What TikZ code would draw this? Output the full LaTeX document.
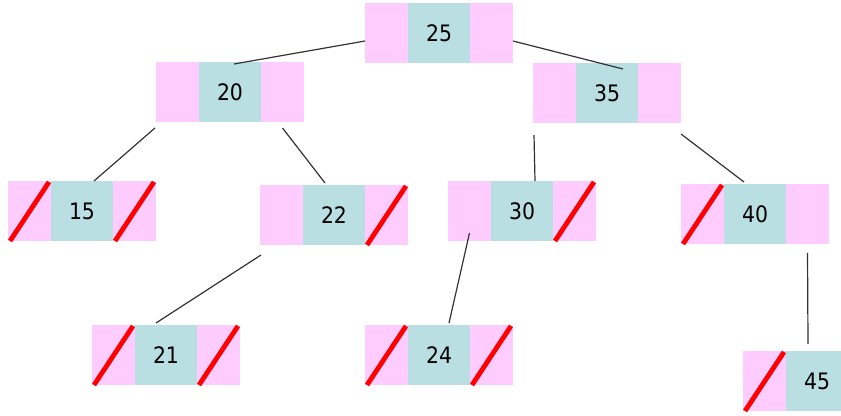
\documentclass[tikz,border=0pt]{standalone}
\usepackage{fontspec}
\newfontfamily\treefont{DejaVu Sans Condensed}
\usetikzlibrary{positioning,calc}
\definecolor{keyblue}{RGB}{186,223,226}
\definecolor{ptrpink}{RGB}{255,204,255}

\begin{document}
\begin{tikzpicture}[x=0.75pt,y=-0.75pt,
        key node/.style={fill=keyblue,minimum width=46.5pt,minimum height=45pt,inner sep=0pt,outer sep=0pt,
            font=\treefont\fontsize{17}{20}\selectfont},
        ptr node/.style={fill=ptrpink,minimum width=32.25pt,minimum height=45pt,inner sep=0pt,outer sep=0pt},
        nil ptr/.style={red,line width=3.6pt},
        link/.style={black!80,line width=0.9pt}]
        \clip (0,0) rectangle (841,416);
        % keys
        \node[key node] (k25) at (439,33) {25};
        \node[key node] (k20) at (230,92) {20};
        \node[key node] (k35) at (607,93) {35};
        \node[key node] (k15) at (82,211) {15};
        \node[key node] (k22) at (334,215) {22};
        \node[key node] (k30) at (522,211) {30};
        \node[key node] (k40) at (755,214) {40};
        \node[key node] (k21) at (166,355) {21};
        \node[key node] (k24) at (439,355) {24};
        \node[key node] (k45) at (817,381) {45};
        % pointer fields
        \foreach \k in {25,20,35,15,22,30,40,21,24}{
            \node[ptr node] (l\k) [left=0pt of k\k] {};
            \node[ptr node] (r\k) [right=0pt of k\k] {};
        }
        \node[ptr node] (l45) [left=0pt of k45] {};
        % null pointers
        \foreach \p in {l15,r15,r22,r30,l40,l21,r21,l24,r24,l45}
            \draw[nil ptr] ($(\p.south west)+(2,0)$) -- ($(\p.north east)+(-2,1)$);
        % links
        \path[link]
        ($(l25.west)+(0,8)$) edge ($(k20.north)+(4,2)$)
        ($(r25.east)+(0,8)$) edge ($(k35.north)+(16,6)$)
        ($(l20.south west)+(-1,6)$) edge ($(k15.north)+(12,0)$)
        ($(r20.south)+(0,6)$) edge ($(k22.north)+(-9,-2)$)
        ($(l35.south west)+(1,12)$) edge ($(k30.north)+(13,0)$)
        ($(r35.south east)+(0,11)$) edge ($(k40.north)+(-11,-2)$)
        ($(l22.south west)+(1,10)$) edge ($(k21.north)+(-10,-2)$)
        ($(l30.center)+(0,22)$) edge ($(k24.north)+(10,-2)$)
        ($(r40.south)+(0,9)$) edge ($(k45.north)+(-9,-7)$)
        ;
\end{tikzpicture}
\end{document}
